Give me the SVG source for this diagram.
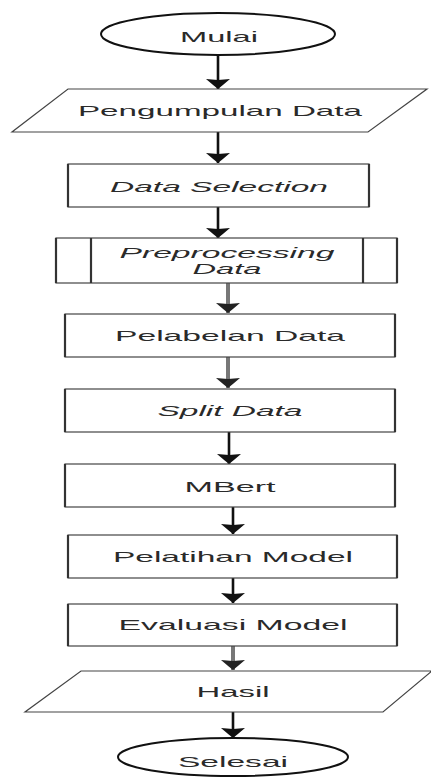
<svg xmlns="http://www.w3.org/2000/svg" width="431" height="778" viewBox="0 0 431 778">
<style>
.bg{fill:#fff}
.term{fill:#fff;stroke:#111;stroke-width:2}
.box{fill:#fff;stroke:#444;stroke-width:1.2}
.side{stroke:#333;stroke-width:2.2}
.para{fill:#fff;stroke:#444;stroke-width:1.2}
.t{font-family:"Liberation Sans",Arial,sans-serif;font-size:15px;fill:#2a2a2a;text-anchor:middle}
.i{font-style:italic}
.c{fill:none;stroke:#111;stroke-width:2.6;marker-end:url(#ah)}
.g{fill:none;stroke:#777;stroke-width:4;marker-end:url(#ahg)}
</style>
<defs>
<marker id="ah" markerUnits="userSpaceOnUse" viewBox="0 -12 10 24" markerWidth="10" markerHeight="24" refX="10" refY="0" orient="auto"><path d="M0,-12 Q6,-5 10,0 Q6,5 0,12 L1,0 z" fill="#111"/></marker>
<marker id="ahg" markerUnits="userSpaceOnUse" viewBox="0 -12 10 24" markerWidth="10" markerHeight="24" refX="10" refY="0" orient="auto"><path d="M0,-12 Q6,-5 10,0 Q6,5 0,12 L1,0 z" fill="#222"/></marker>
</defs>
<rect class="bg" x="0" y="0" width="431" height="778"/>
<g id="connectors">
<line class="c" x1="218" y1="55" x2="218" y2="89"/>
<line class="c" x1="218" y1="132" x2="218" y2="163"/>
<line class="c" x1="218" y1="207" x2="218" y2="238"/>
<line class="g" x1="228" y1="283" x2="228" y2="313"/>
<line class="g" x1="228" y1="357" x2="228" y2="388"/>
<line class="c" x1="229" y1="432" x2="229" y2="464"/>
<line class="c" x1="233" y1="507" x2="233" y2="534"/>
<line class="c" x1="233" y1="578" x2="233" y2="603"/>
<line class="g" x1="233" y1="646" x2="233" y2="670"/>
<line class="c" x1="233" y1="712" x2="233" y2="738"/>
</g>
<g id="mulai">
<ellipse class="term" cx="218" cy="34" rx="117" ry="21"/>
<text class="t" x="219" y="42" textLength="78" lengthAdjust="spacingAndGlyphs">Mulai</text>
</g>
<g id="pengumpulan">
<polygon class="para" points="68,89 427,89 368,132 12,132"/>
<text class="t" x="220" y="116" textLength="284" lengthAdjust="spacingAndGlyphs">Pengumpulan Data</text>
</g>
<g id="selection">
<rect class="box" x="68" y="164" width="301" height="43"/>
<line class="side" x1="68" y1="164" x2="68" y2="207"/><line class="side" x1="369" y1="164" x2="369" y2="207"/>
<text class="t i" x="219" y="192" textLength="218" lengthAdjust="spacingAndGlyphs">Data Selection</text>
</g>
<g id="preprocessing">
<rect class="box" x="56" y="238" width="341" height="45"/>
<line class="side" x1="56" y1="238" x2="56" y2="283"/><line class="side" x1="397" y1="238" x2="397" y2="283"/>
<line class="side" x1="91" y1="238" x2="91" y2="283"/><line class="side" x1="363" y1="238" x2="363" y2="283"/>
<text class="t i" x="227" y="258" textLength="215" lengthAdjust="spacingAndGlyphs">Preprocessing</text>
<text class="t i" x="227" y="274" textLength="69" lengthAdjust="spacingAndGlyphs">Data</text>
</g>
<g id="pelabelan">
<rect class="box" x="65" y="314" width="330" height="43"/>
<line class="side" x1="65" y1="314" x2="65" y2="357"/><line class="side" x1="395" y1="314" x2="395" y2="357"/>
<text class="t" x="230" y="341" textLength="230" lengthAdjust="spacingAndGlyphs">Pelabelan Data</text>
</g>
<g id="split">
<rect class="box" x="65" y="389" width="330" height="43"/>
<line class="side" x1="65" y1="389" x2="65" y2="432"/><line class="side" x1="395" y1="389" x2="395" y2="432"/>
<text class="t i" x="230" y="416" textLength="145" lengthAdjust="spacingAndGlyphs">Split Data</text>
</g>
<g id="mbert">
<rect class="box" x="65" y="464" width="330" height="43"/>
<line class="side" x1="65" y1="464" x2="65" y2="507"/><line class="side" x1="395" y1="464" x2="395" y2="507"/>
<text class="t" x="230" y="492" textLength="91" lengthAdjust="spacingAndGlyphs">MBert</text>
</g>
<g id="pelatihan">
<rect class="box" x="68" y="535" width="329" height="43"/>
<line class="side" x1="68" y1="535" x2="68" y2="578"/><line class="side" x1="397" y1="535" x2="397" y2="578"/>
<text class="t" x="233" y="562" textLength="240" lengthAdjust="spacingAndGlyphs">Pelatihan Model</text>
</g>
<g id="evaluasi">
<rect class="box" x="68" y="604" width="329" height="42"/>
<line class="side" x1="68" y1="604" x2="68" y2="646"/><line class="side" x1="397" y1="604" x2="397" y2="646"/>
<text class="t" x="233" y="630" textLength="229" lengthAdjust="spacingAndGlyphs">Evaluasi Model</text>
</g>
<g id="hasil">
<polygon class="para" points="81,671 432,671 383,712 25,712"/>
<text class="t" x="233" y="697" textLength="73" lengthAdjust="spacingAndGlyphs">Hasil</text>
</g>
<g id="selesai">
<ellipse class="term" cx="233" cy="757" rx="115" ry="19"/>
<text class="t" x="233" y="767" textLength="110" lengthAdjust="spacingAndGlyphs">Selesai</text>
</g>
</svg>
